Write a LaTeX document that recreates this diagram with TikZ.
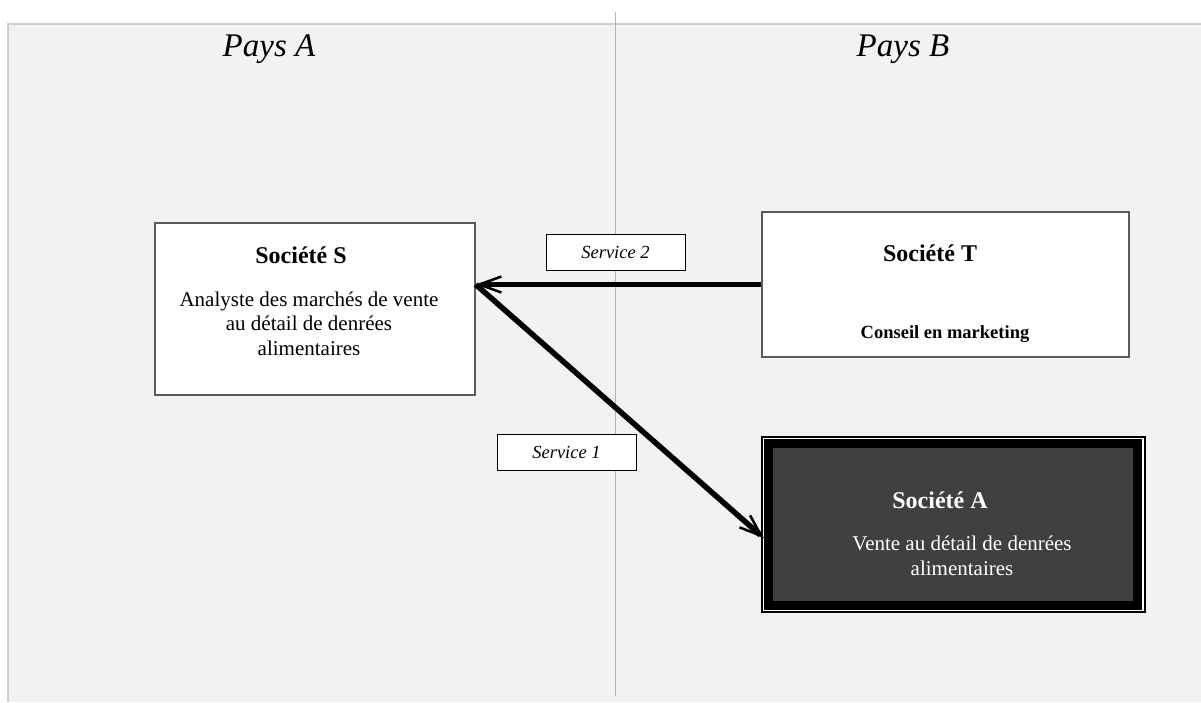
\documentclass[tikz,border=0pt]{standalone}
\usepackage{fontspec}
\setmainfont{Liberation Serif}
\usetikzlibrary{calc,arrows.meta}
\definecolor{paper}{RGB}{242,242,242}
\definecolor{frame}{RGB}{205,205,205}
\definecolor{divider}{RGB}{178,178,178}
\definecolor{boxline}{RGB}{90,90,90}
\definecolor{dark}{RGB}{64,64,64}

\begin{document}
\begin{tikzpicture}[x=1pt,y=-1pt]
\tikzstyle{firm} = [draw=boxline, line width=1.5pt, fill=white];
\tikzstyle{tag} = [draw=black, line width=1pt, fill=white,
            minimum width=139pt, minimum height=36pt,
            font=\fontsize{18.5}{22}\selectfont\itshape];
\tikzstyle{title} = [anchor=base, font=\fontsize{24}{28}\selectfont\bfseries];
\tikzstyle{body} = [anchor=base, align=center, font=\fontsize{21}{24.5}\selectfont];
\tikzstyle{flow} = [line width=5.5pt,
            -{Straight Barb[length=22pt,width=16pt,line width=2.5pt]}];

    \useasboundingbox (0,0) rectangle (1201,702);
    \fill[paper] (8,24) rectangle (1201,702);
    \draw[frame, line width=1.5pt] (1201,24) -- (8,24) -- (8,702);
    \draw[divider, line width=1.5pt] (615.5,12) -- (615.5,696);

    % countries
    \node (pa) at (269,56) [anchor=base, font=\fontsize{33}{38}\selectfont\itshape] {Pays A};
    \node (pb) at (903,56) [anchor=base, font=\fontsize{33}{38}\selectfont\itshape] {Pays B};

    % companies
    \node (S) at (315,309) [firm, minimum width=320pt, minimum height=172pt] {};
    \node (St) at (301,263) [title] {Société S};
    \node (Sb) at (309,355) [body] {Analyste des marchés de vente\\au détail de denrées\\alimentaires};

    \node (T) at (945.5,284.5) [firm, minimum width=367pt, minimum height=145pt] {};
    \node (Tt) at (930,261) [title] {Société T};
    \node (Tb) at (945,338) [anchor=base, font=\fontsize{18.5}{22}\selectfont\bfseries] {Conseil en marketing};

    \node (A) at (953,524.25) [minimum width=369pt, minimum height=161.5pt,
            preaction={draw=black, line width=16pt},
            preaction={draw=white, line width=12pt},
            draw=black, line width=9pt, fill=dark] {};
    \node (At) at (940,508) [title, text=white] {Société A};
    \node (Ab) at (962,575) [body, text=white] {Vente au détail de denrées\\alimentaires};

    % services
    \node (svc2) at (615.5,252) [tag] {Service 2};
    \node (svc1) at (566.5,452.5) [tag] {Service 1};

    \coordinate (s) at (T.west -| S.east);
    \draw[flow] (T.west) -- (s);
    \draw[flow] (s) -- ([yshift=-14pt]A.west);

\end{tikzpicture}
\end{document}
